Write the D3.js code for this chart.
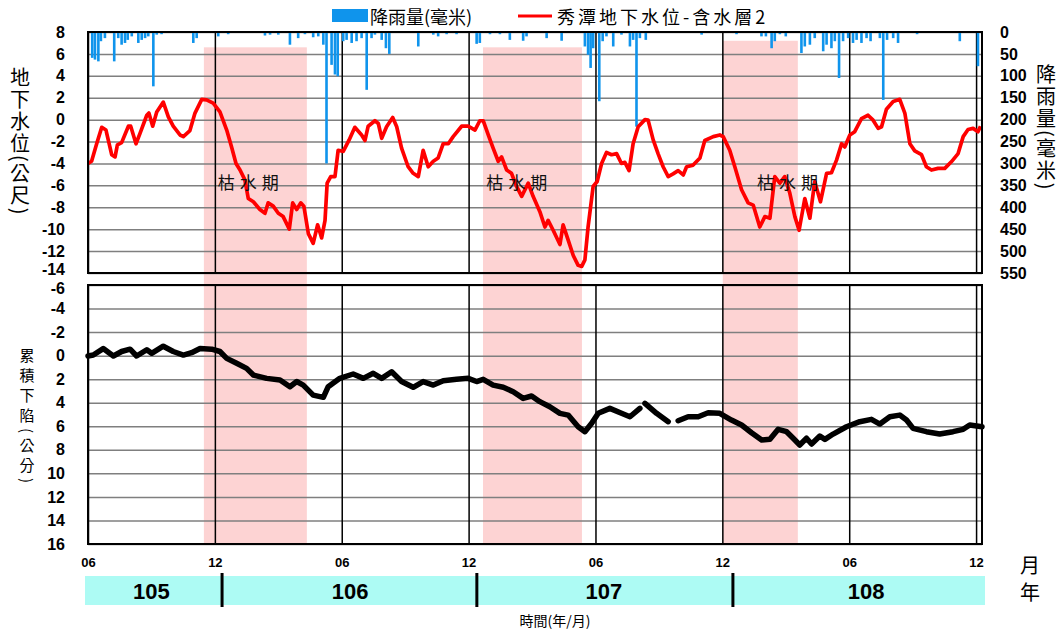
<!DOCTYPE html>
<meta charset="utf-8"/>
<html>
<head>
<script src="https://d3js.org/d3.v7.min.js"></script>
<style>
  * { margin: 0; padding: 0; }
  body { background: #fff; }
  svg text { font-family: "Liberation Sans", Arial, "Noto Sans CJK TC", sans-serif; }
  .cjk { font-family: "Noto Sans CJK TC", "Noto Sans CJK SC", sans-serif !important; }
  .narrow { font-family: "Liberation Sans Narrow", "Liberation Sans", Arial, sans-serif !important; }
</style>
</head>
<body>
<div id="chart"></div>
<script>
// months counted from 105/06 (2016/06)
const monthTicks = [0, 6, 12, 18, 24, 30, 36, 42];
const monthLabels = ["06", "12", "06", "12", "06", "12", "06", "12"];
const years = ["105", "106", "107", "108"];
const yearCentres = [3, 12.4, 24.4, 36.8];
const yearBreaks = [6.34, 18.39, 30.5];

// dry seasons (枯水期)
const dryStart = [5.48, 18.68, 30.02];
const dryEnd = [10.35, 23.36, 33.57];
const dryTop = [6.6, 6.6, 7.2];
const dryLabelAt = [7.7, 20.4, 33.2];

const levelTicks = [8, 6, 4, 2, 0, -2, -4, -6, -8, -10, -12, -14];
const rainTicks = [0, 50, 100, 150, 200, 250, 300, 350, 400, 450, 500, 550];
const sinkTicks = [-6, -4, -2, 0, 2, 4, 6, 8, 10, 12, 14, 16];

// 秀潭地下水位-含水層2 (m)  [month, level]
const level = [[0,-4.0],[0.17,-3.8],[0.41,-2.2],[0.65,-0.7],[0.85,-0.95],[1.12,-3.2],[1.28,-3.4],[1.39,-2.3],[1.59,-2.1],[1.91,-0.6],[2.02,-0.6],[2.27,-2.2],[2.46,-1.25],[2.78,0.4],[2.88,0.6],[3.06,-0.6],[3.25,0.7],[3.56,1.6],[3.80,0.25],[4.03,-0.6],[4.35,-1.4],[4.51,-1.55],[4.82,-1.0],[5.06,0.6],[5.38,1.85],[5.61,1.8],[5.92,1.5],[6.24,0.7],[6.56,-0.95],[6.79,-2.5],[7.00,-4.0],[7.19,-4.6],[7.42,-5.5],[7.58,-7.2],[7.82,-7.5],[8.13,-8.2],[8.37,-8.55],[8.52,-7.6],[8.76,-7.9],[9.00,-8.55],[9.23,-8.85],[9.52,-10.0],[9.68,-7.6],[9.87,-8.2],[10.06,-7.6],[10.21,-7.9],[10.42,-10.4],[10.65,-11.3],[10.86,-9.6],[11.05,-10.8],[11.21,-9.2],[11.31,-5.8],[11.48,-5.2],[11.68,-5.2],[11.83,-2.8],[12.07,-2.9],[12.35,-1.85],[12.62,-0.7],[12.94,-1.4],[13.10,-1.9],[13.25,-0.6],[13.57,-0.1],[13.73,-0.35],[13.89,-1.7],[14.12,-0.65],[14.41,0.2],[14.60,-0.65],[14.83,-2.6],[15.14,-4.3],[15.38,-4.9],[15.62,-5.2],[15.85,-2.8],[16.09,-4.3],[16.33,-3.8],[16.56,-3.5],[16.80,-2.2],[17.04,-2.2],[17.27,-1.55],[17.67,-0.6],[17.98,-0.6],[18.30,-0.95],[18.53,-0.1],[18.69,-0.1],[18.93,-1.4],[19.16,-2.6],[19.40,-3.8],[19.56,-3.4],[19.80,-4.6],[20.03,-4.9],[20.27,-6.1],[20.51,-7.0],[20.82,-5.8],[21.05,-7.0],[21.37,-8.4],[21.61,-9.8],[21.76,-9.2],[22.00,-10.1],[22.32,-11.4],[22.47,-9.6],[22.71,-11.0],[22.95,-12.4],[23.18,-13.3],[23.35,-13.4],[23.50,-12.8],[23.65,-9.8],[23.89,-6.1],[24.08,-5.65],[24.29,-4.0],[24.52,-3.0],[24.76,-3.2],[25.00,-3.1],[25.23,-4.0],[25.39,-3.9],[25.59,-4.65],[25.78,-2.2],[26.02,-0.65],[26.34,0.0],[26.49,-0.05],[26.73,-1.85],[26.96,-3.1],[27.20,-4.3],[27.44,-5.2],[27.67,-4.95],[27.91,-4.65],[28.15,-5.05],[28.31,-4.3],[28.62,-4.15],[28.94,-3.5],[29.17,-1.9],[29.57,-1.55],[29.88,-1.4],[30.04,-1.55],[30.35,-2.8],[30.59,-4.3],[30.91,-6.4],[31.22,-7.6],[31.46,-7.8],[31.77,-9.8],[32.01,-8.85],[32.25,-9.0],[32.48,-5.2],[32.72,-5.8],[32.95,-5.2],[33.19,-6.7],[33.43,-8.85],[33.63,-10.1],[33.90,-7.2],[34.14,-9.0],[34.37,-5.65],[34.64,-7.5],[34.93,-4.9],[35.16,-4.85],[35.40,-3.7],[35.64,-2.2],[35.79,-2.5],[36.03,-1.4],[36.26,-1.1],[36.58,0.1],[36.89,0.4],[37.13,-0.05],[37.37,-0.8],[37.53,-0.65],[37.76,0.95],[38.08,1.65],[38.39,1.85],[38.63,0.6],[38.87,-2.2],[39.10,-2.85],[39.42,-3.2],[39.65,-4.3],[39.89,-4.6],[40.20,-4.45],[40.52,-4.45],[40.83,-3.85],[41.15,-3.1],[41.39,-1.55],[41.62,-0.9],[41.86,-0.8],[42.09,-1.1],[42.21,-0.6]];

// 降雨量 (mm)  [month, rain]
const rain = [[0.20,59],[0.33,63],[0.49,67],[0.61,21],[0.80,14],[1.24,67],[1.43,14],[1.59,29],[1.75,25],[1.88,18],[2.07,10],[2.38,25],[2.54,18],[2.70,14],[2.85,10],[3.09,124],[3.25,6],[3.48,5],[4.98,25],[5.14,14],[6.16,10],[6.63,5],[8.37,8],[8.61,6],[9.00,6],[9.55,29],[9.94,14],[10.26,5],[10.65,12],[10.89,10],[11.13,29],[11.28,300],[11.52,75],[11.68,97],[11.81,101],[12.07,21],[12.23,18],[12.47,25],[12.70,21],[12.94,14],[13.18,132],[13.41,14],[13.57,6],[13.89,18],[14.09,37],[14.25,50],[15.62,33],[16.33,6],[16.56,10],[16.96,5],[17.43,5],[18.38,27],[18.53,25],[19.01,5],[19.48,5],[19.95,18],[20.58,20],[20.74,10],[21.69,14],[22.40,20],[23.50,33],[23.65,52],[23.77,82],[23.89,37],[24.18,158],[24.34,21],[24.52,10],[24.84,33],[25.23,6],[25.63,33],[25.78,18],[25.94,216],[26.10,14],[26.38,18],[29.02,6],[30.67,5],[31.30,2],[31.85,10],[32.06,10],[32.33,37],[32.48,21],[32.72,5],[33.00,10],[33.74,48],[33.90,33],[34.14,29],[34.37,14],[34.77,44],[34.93,29],[35.16,37],[35.32,21],[35.52,105],[35.71,21],[35.95,14],[36.18,25],[36.35,18],[36.58,25],[36.82,14],[37.01,21],[37.45,14],[37.61,155],[37.79,18],[38.08,14],[38.31,25],[39.21,5],[41.23,21],[42.09,78]];

// 累積下陷 (cm)  [month, subsidence]; null = gap in record
const sink = [[0,0.03],[0.25,-0.05],[0.72,-0.6],[1.20,0.03],[1.59,-0.35],[1.99,-0.55],[2.30,0.03],[2.78,-0.5],[3.01,-0.2],[3.56,-0.8],[4.03,-0.35],[4.51,-0.05],[4.90,-0.25],[5.30,-0.6],[5.85,-0.55],[6.24,-0.35],[6.56,0.23],[7.03,0.65],[7.50,1.08],[7.82,1.65],[8.45,1.93],[9.08,2.07],[9.55,2.64],[9.87,2.2],[10.18,2.5],[10.65,3.35],[11.13,3.54],[11.36,2.64],[11.91,1.93],[12.54,1.56],[13.02,1.93],[13.49,1.5],[13.89,1.93],[14.36,1.37],[14.83,2.2],[15.38,2.69],[15.85,2.2],[16.33,2.5],[16.80,2.13],[17.43,2.01],[17.98,1.93],[18.38,2.2],[18.69,2.01],[19.16,2.5],[19.64,2.69],[20.11,3.06],[20.58,3.63],[20.98,3.43],[21.37,3.91],[21.84,4.34],[22.32,4.9],[22.71,5.05],[23.18,6.04],[23.50,6.46],[23.82,5.75],[24.13,4.9],[24.68,4.48],[25.23,4.9],[25.63,5.19],[26.10,4.48],null,[26.34,4.05],[26.89,4.9],[27.44,5.61],null,[27.91,5.53],[28.38,5.19],[28.86,5.19],[29.33,4.85],[29.88,4.9],[30.43,5.47],[30.91,5.89],[31.38,6.55],[31.86,7.17],[32.25,7.11],[32.64,6.26],[33.04,6.46],[33.35,7.02],[33.66,7.59],[33.98,7.02],[34.22,7.51],[34.61,6.83],[34.85,7.11],[35.24,6.66],[35.87,6.04],[36.50,5.61],[37.05,5.41],[37.45,5.81],[37.92,5.19],[38.39,5.05],[38.71,5.47],[39.02,6.18],[39.65,6.46],[40.28,6.66],[40.91,6.46],[41.39,6.26],[41.70,5.89],[42.28,6.04]];

var W = 1064, H = 637;
var svg = d3.select("#chart").append("svg").attr("width", W).attr("height", H);

var x = d3.scaleLinear().domain([0, 42.28]).range([88, 982]);
var yLevel = d3.scaleLinear().domain([-14, 8]).range([273, 32]);
var yRain = d3.scaleLinear().domain([0, 550]).range([32, 273]);
var ySink = d3.scaleLinear().domain([-6, 16]).range([285, 544]);
var plotW = x.range()[1] - x.range()[0];

// dry season shading, across both panels
svg.append("g").selectAll("rect").data(dryStart).join("rect")
    .attr("x", d => x(d))
    .attr("width", (d, i) => x(dryEnd[i]) - x(d))
    .attr("y", (d, i) => yLevel(dryTop[i]))
    .attr("height", (d, i) => ySink(16) - 1 - yLevel(dryTop[i]))
    .attr("fill", "#fdd3d3");

function styleAxis(g, size) {
    g.select(".domain").remove();
    g.attr("font-family", null).attr("font-size", null);
    g.selectAll("text").attr("fill", "#000").attr("font-weight", "bold").attr("font-size", size);
}

// horizontal grid + left labels (top panel)
svg.append("g").attr("transform", `translate(${x(0)},0)`)
    .call(d3.axisLeft(yLevel).tickValues(levelTicks).tickSize(-plotW).tickPadding(23).tickFormat(d => String(d)))
    .call(g => styleAxis(g, 16))
    .call(g => g.selectAll(".tick line").attr("stroke", "#7f7f7f").attr("stroke-width", 1.5))
    // the lowest label sits tight against the panel below
    .call(g => g.selectAll(".tick text").filter(d => d === -14).attr("dy", "0.1em"));

// right rain axis labels
svg.append("g").attr("transform", `translate(${x.range()[1]},0)`)
    .call(d3.axisRight(yRain).tickValues(rainTicks).tickSize(0).tickPadding(18).tickFormat(d => String(d)))
    .call(g => styleAxis(g, 16));

// horizontal grid + left labels (bottom panel)
svg.append("g").attr("transform", `translate(${x(0)},0)`)
    .call(d3.axisLeft(ySink).tickValues(sinkTicks).tickSize(-plotW).tickPadding(23).tickFormat(d => String(d)))
    .call(g => styleAxis(g, 16))
    .call(g => g.selectAll(".tick line").attr("stroke", "#7f7f7f").attr("stroke-width", 1.5))
    .call(g => g.selectAll(".tick text").filter(d => d === -6).attr("dy", "0.55em"));

// vertical month lines
svg.append("g").attr("transform", `translate(0,${yLevel(-14)})`)
    .call(d3.axisBottom(x).tickValues(monthTicks).tickSize(-(yLevel(-14) - yLevel(8))).tickFormat(""))
    .call(g => g.select(".domain").remove())
    .call(g => g.selectAll(".tick line").attr("stroke", "#000").attr("stroke-width", 1.5));
svg.append("g").attr("transform", `translate(0,${ySink(16)})`)
    .call(d3.axisBottom(x).tickValues(monthTicks).tickSize(-(ySink(16) - ySink(-6))).tickFormat(""))
    .call(g => g.select(".domain").remove())
    .call(g => g.selectAll(".tick line").attr("stroke", "#000").attr("stroke-width", 1.5));

// rain bars hang from the top
svg.append("g").selectAll("rect").data(rain).join("rect")
    .attr("x", d => x(d[0]) - 1.3)
    .attr("width", 2.6)
    .attr("y", yRain(0))
    .attr("height", d => yRain(d[1]) - yRain(0))
    .attr("fill", "#0f94ec");

// groundwater level
svg.append("path").datum(level)
    .attr("d", d3.line().x(d => x(d[0])).y(d => yLevel(d[1])))
    .attr("fill", "none").attr("stroke", "#ff0000").attr("stroke-width", 3.7)
    .attr("stroke-linejoin", "round");

// cumulative subsidence
svg.append("path").datum(sink)
    .attr("d", d3.line().defined(d => d !== null).x(d => x(d[0])).y(d => ySink(d[1])))
    .attr("fill", "none").attr("stroke", "#000").attr("stroke-width", 5.5)
    .attr("stroke-linejoin", "round").attr("stroke-linecap", "round");

// panel frames
[[yLevel(8), yLevel(-14)], [ySink(-6), ySink(16)]].forEach(function (p) {
    svg.append("rect").attr("x", x(0)).attr("y", p[0])
        .attr("width", plotW).attr("height", p[1] - p[0])
        .attr("fill", "none").attr("stroke", "#000").attr("stroke-width", 2);
});

// dry season labels
svg.append("g").selectAll("text").data(dryLabelAt).join("text")
    .attr("class", "cjk")
    .attr("x", d => x(d)).attr("y", 189)
    .attr("text-anchor", "middle")
    .attr("font-size", 17).attr("letter-spacing", 5)
    .attr("fill", "#111")
    .text("枯水期");

// month labels
svg.append("g").attr("transform", `translate(0,548)`)
    .call(d3.axisBottom(x).tickValues(monthTicks).tickSize(0).tickPadding(10).tickFormat((d, i) => monthLabels[i]))
    .call(g => styleAxis(g, 13))
    .call(g => g.selectAll("text").attr("class", "narrow"));

// year band
svg.append("rect").attr("x", x(0) - 3).attr("y", 576)
    .attr("width", plotW + 6).attr("height", 29).attr("fill", "#adfbf4");
svg.append("g").selectAll("line").data(yearBreaks).join("line")
    .attr("x1", d => x(d)).attr("x2", d => x(d))
    .attr("y1", 573).attr("y2", 607)
    .attr("stroke", "#000").attr("stroke-width", 3);
svg.append("g").selectAll("text").data(years).join("text")
    .attr("class", "narrow")
    .attr("x", (d, i) => x(yearCentres[i])).attr("y", 599)
    .attr("text-anchor", "middle")
    .attr("font-size", 22).attr("font-weight", "bold")
    .text(d => d);

svg.append("text").attr("class", "cjk").attr("x", 1030).attr("y", 573)
    .attr("text-anchor", "middle").attr("font-size", 20).text("月");
svg.append("text").attr("class", "cjk").attr("x", 1030).attr("y", 600)
    .attr("text-anchor", "middle").attr("font-size", 20).text("年");
svg.append("text").attr("class", "cjk").attr("x", 555).attr("y", 626)
    .attr("text-anchor", "middle").attr("font-size", 14).text("時間(年/月)");

// axis titles, vertical
function vtitle(tx, ty, size, spacing, label) {
    svg.append("text").attr("class", "cjk")
        .attr("x", tx).attr("y", ty)
        .style("writing-mode", "vertical-rl")
        .attr("font-size", size).attr("letter-spacing", spacing)
        .text(label);
}
vtitle(20, 67, 20, 2, "地下水位(公尺)");
vtitle(1046, 64, 20, 2, "降雨量(毫米)");
vtitle(27, 348, 15, 5, "累積下陷(公分)");

// legend
svg.append("rect").attr("x", 332).attr("y", 9).attr("width", 36).attr("height", 13).attr("fill", "#0f94ec");
svg.append("text").attr("class", "cjk").attr("x", 370).attr("y", 24).attr("font-size", 18).text("降雨量(毫米)");
svg.append("line").attr("x1", 518).attr("x2", 552).attr("y1", 16).attr("y2", 16)
    .attr("stroke", "#ff0000").attr("stroke-width", 3);
svg.append("text").attr("class", "cjk").attr("x", 557).attr("y", 24).attr("font-size", 18)
    .attr("letter-spacing", 3).text("秀潭地下水位-含水層2");
</script>
</body>
</html>
